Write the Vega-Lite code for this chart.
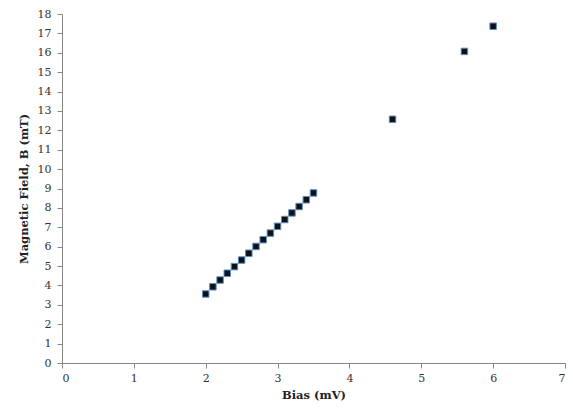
{
  "$schema": "https://vega.github.io/schema/vega-lite/v6.json",
  "width": 503,
  "height": 349,
  "autosize": {"type": "none"},
  "padding": {"left": 62, "top": 14, "right": 8, "bottom": 53},
  "background": "white",
  "config": {
    "view": {"stroke": null},
    "axis": {
      "grid": false,
      "domainColor": "#868686",
      "tickColor": "#868686",
      "tickSize": 5,
      "labelFont": "DejaVu Serif",
      "labelFontSize": 11,
      "labelColor": "#333333",
      "titleFont": "DejaVu Serif",
      "titleFontSize": 11.5,
      "titleFontWeight": "bold",
      "titleColor": "#222222"
    }
  },
  "data": {
    "values": [
      {"bias": 2.0, "B": 3.56},
      {"bias": 2.1, "B": 3.93},
      {"bias": 2.2, "B": 4.28},
      {"bias": 2.3, "B": 4.63},
      {"bias": 2.4, "B": 4.97},
      {"bias": 2.5, "B": 5.31},
      {"bias": 2.6, "B": 5.66},
      {"bias": 2.7, "B": 6.01},
      {"bias": 2.8, "B": 6.36},
      {"bias": 2.9, "B": 6.7},
      {"bias": 3.0, "B": 7.05},
      {"bias": 3.1, "B": 7.4},
      {"bias": 3.2, "B": 7.74},
      {"bias": 3.3, "B": 8.07},
      {"bias": 3.4, "B": 8.42},
      {"bias": 3.5, "B": 8.77},
      {"bias": 4.6, "B": 12.57},
      {"bias": 5.6, "B": 16.07},
      {"bias": 6.0, "B": 17.37}
    ]
  },
  "mark": {
    "type": "point",
    "shape": "square",
    "filled": true,
    "size": 42,
    "fill": "#111111",
    "stroke": "#5b8fc9",
    "strokeWidth": 1,
    "opacity": 1
  },
  "encoding": {
    "x": {
      "field": "bias",
      "type": "quantitative",
      "scale": {"domain": [0, 7], "nice": false, "zero": true},
      "axis": {"values": [0, 1, 2, 3, 4, 5, 6, 7], "title": "Bias (mV)", "labelPadding": 4, "titlePadding": 6}
    },
    "y": {
      "field": "B",
      "type": "quantitative",
      "scale": {"domain": [0, 18], "nice": false},
      "axis": {"values": [0, 1, 2, 3, 4, 5, 6, 7, 8, 9, 10, 11, 12, 13, 14, 15, 16, 17, 18], "title": "Magnetic Field, B (mT)", "labelPadding": 6, "titlePadding": 8}
    }
  }
}
